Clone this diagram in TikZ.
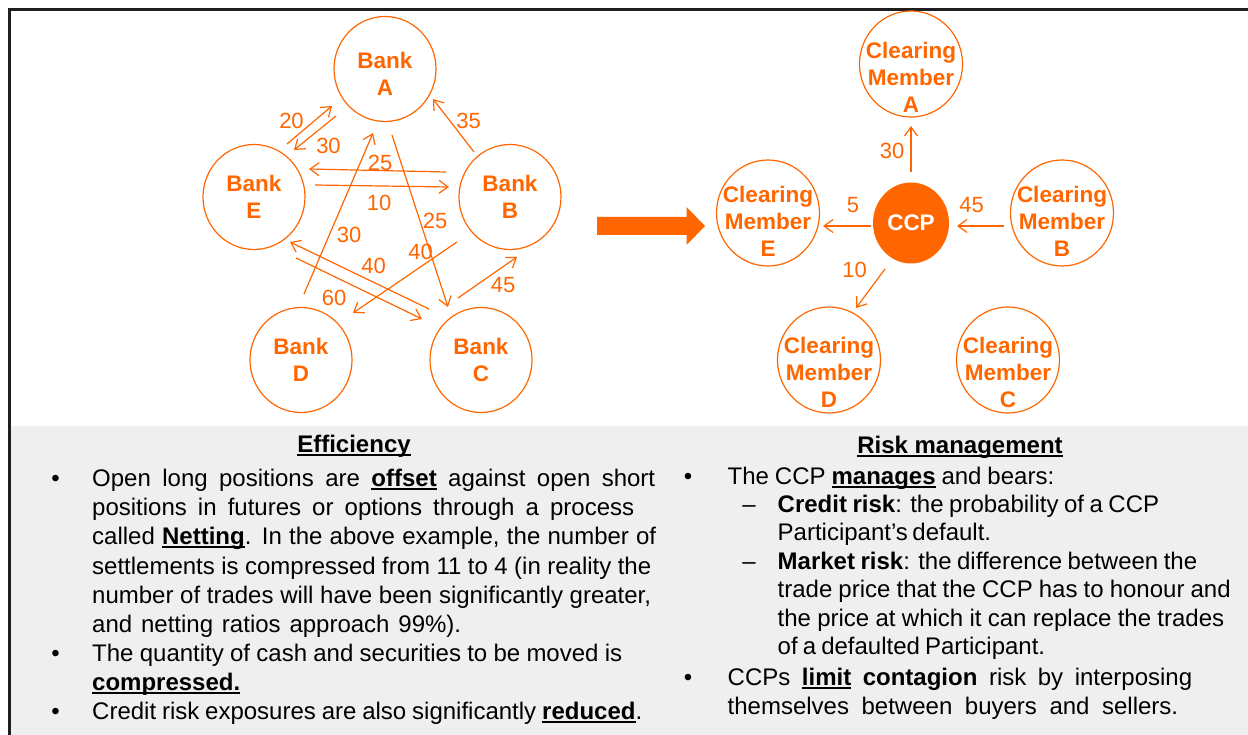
\documentclass[tikz,border=0pt]{standalone}
\usepackage{fontspec}
\setmainfont{Liberation Sans}
\usetikzlibrary{shapes.geometric,arrows.meta}
\definecolor{ora}{RGB}{255,102,0}
\definecolor{bggray}{RGB}{239,239,239}
\definecolor{framec}{RGB}{30,30,30}
\newcommand\ulx[1]{\leavevmode\setbox0\hbox{#1}\rlap{\rule[-4pt]{\wd0}{2pt}}\box0\relax}
\newcommand\lw[2]{\makebox[#1][s]{#2}}
\begin{document}
\begin{tikzpicture}[x=1pt,y=-1pt,
  bank/.style={ellipse,draw=ora,line width=1.2pt,minimum width=102pt,minimum height=105pt,inner sep=0pt},
  cmnode/.style={ellipse,draw=ora,line width=1.2pt,minimum width=103pt,minimum height=106pt,inner sep=0pt},
  ntext/.style={text=ora,font=\fontsize{22.5}{27}\selectfont\bfseries,align=center,inner sep=0pt},
  num/.style={text=ora,font=\fontsize{22}{26}\selectfont,inner sep=0pt},
  arr/.style={draw=ora,line width=1.2pt,-{Straight Barb[length=9pt,width=13pt]}},
  txl/.style={font=\fontsize{24}{29}\selectfont,inner sep=0pt,anchor=base west},
  hd/.style={font=\fontsize{24}{29}\selectfont\bfseries,inner sep=0pt,anchor=base},
  bul/.style={font=\fontsize{24}{29}\selectfont,inner sep=0pt,anchor=base}]
\useasboundingbox (0,0) rectangle (1248,735);
\fill[bggray] (11,426) rectangle (1248,735);
\draw[framec,line width=2.3pt] (9.5,735) -- (9.5,9.5) -- (1248,9.5);

% left network
\node[bank,label={[ntext,yshift=-4.5pt]center:Bank\\A}] (A) at (385,69) {};
\node[bank,label={[ntext]center:Bank\\E}] (E) at (254,197) {};
\node[bank,label={[ntext]center:Bank\\B}] (B) at (510,197) {};
\node[bank,label={[ntext]center:Bank\\D}] (D) at (301,360) {};
\node[bank,label={[ntext]center:Bank\\C}] (C) at (481,360) {};

\draw[arr] ([shift={(33,-53)}]E.center) -- ([shift={(-53,37)}]A.center);
\draw[arr] ([shift={(-49,47)}]A.center) -- ([shift={(40,-47)}]E.center);
\draw[arr] ([shift={(-36,-45)}]B.center) -- ([shift={(48,30)}]A.center);
\draw[arr] ([shift={(-64,-25)}]B.center) -- ([shift={(55,-28)}]E.center);
\draw[arr] ([shift={(61,-12)}]E.center) -- ([shift={(-61,-10)}]B.center);
\draw[arr] ([shift={(3,-66)}]D.center) -- ([shift={(-12,64)}]A.center);
\draw[arr] ([shift={(7,66)}]A.center) -- ([shift={(-33,-53)}]C.center);
\draw[arr] ([shift={(-53,45)}]B.center) -- ([shift={(52,-47)}]D.center);
\draw[arr] ([shift={(-52,-51)}]C.center) -- ([shift={(36,45)}]E.center);
\draw[arr] ([shift={(42,61)}]E.center) -- ([shift={(-59,-41)}]C.center);
\draw[arr] ([shift={(-23,-62)}]C.center) -- ([shift={(7,60)}]B.center);

\node[num] (n1) at (291.5,120.5) {20};
\node[num] (n2) at (328.5,146) {30};
\node[num] (n3) at (468.5,120.5) {35};
\node[num] (n4) at (380,163) {25};
\node[num] (n5) at (379,203) {10};
\node[num] (n6) at (349,234.5) {30};
\node[num] (n7) at (435,221) {25};
\node[num] (n8) at (420.5,252) {40};
\node[num] (n9) at (373.5,266) {40};
\node[num] (n10) at (334,298) {60};
\node[num] (n11) at (503,285) {45};

% big arrow
\fill[ora] (597,217) -- (686.5,217) -- (686.5,207) -- (705,226) -- (686.5,245) -- (686.5,235) -- (597,235) -- cycle;

% right network
\node[cmnode,label={[ntext,yshift=-13pt]center:Clearing\\Member\\A}] (CA) at (911,64) {};
\node[cmnode,label={[ntext,yshift=-8.5pt]center:Clearing\\Member\\E}] (CE) at (768,213) {};
\node[cmnode,label={[ntext,yshift=-8.5pt]center:Clearing\\Member\\B}] (CB) at (1062,213) {};
\node[cmnode,label={[ntext,yshift=-12pt]center:Clearing\\Member\\D}] (CD) at (829,360) {};
\node[cmnode,label={[ntext,yshift=-12pt]center:Clearing\\Member\\C}] (CC) at (1008,360) {};
\node[ellipse,fill=ora,minimum width=76pt,minimum height=81pt,inner sep=0pt,text=white,font=\fontsize{22.5}{27}\selectfont\bfseries] (CCP) at (911,223) {CCP};

\draw[arr] ([shift={(0,-51)}]CCP.center) -- ([shift={(0,62)}]CA.center);
\draw[arr] ([shift={(-40,3)}]CCP.center) -- ([shift={(55,13)}]CE.center);
\draw[arr] ([shift={(-58,13)}]CB.center) -- ([shift={(46,3)}]CCP.center);
\draw[arr] ([shift={(-26,46)}]CCP.center) -- ([shift={(27,-52)}]CD.center);

\node[num] (r1) at (892,151) {30};
\node[num] (r2) at (853,205) {5};
\node[num] (r3) at (971.5,205) {45};
\node[num] (r4) at (854.5,270) {10};

% left text
\node[hd] (effh) at (354,452) {\ulx{Efficiency}};
\node[bul] (lb1) at (55.5,486) {•};
\node[txl] (l1) at (92,486) {\lw{563pt}{Open long positions are \ulx{\textbf{offset}} against open short}};
\node[txl] (l2) at (92,515) {\lw{542pt}{positions in futures or options through a process}};
\node[txl] (l3) at (92,544) {\lw{564pt}{called \ulx{\textbf{Netting}}. In the above example, the number of}};
\node[txl] (l4) at (92,574) {\lw{559pt}{settlements is compressed from 11 to 4 (in reality the}};
\node[txl] (l5) at (92,603) {\lw{559pt}{number of trades will have been significantly greater,}};
\node[txl] (l6) at (92,632) {\lw{369pt}{and netting ratios approach 99\%).}};
\node[bul] (lb2) at (55.5,661) {•};
\node[txl] (l7) at (92,661) {\lw{530pt}{The quantity of cash and securities to be moved is}};
\node[txl] (l8) at (92,690) {\ulx{\textbf{compressed.}}};
\node[bul] (lb3) at (55.5,719) {•};
\node[txl] (l9) at (92,719) {\lw{550pt}{Credit risk exposures are also significantly \ulx{\textbf{reduced}}.}};

% right text
\node[hd] (riskh) at (960,453) {\ulx{Risk management}};
\node[bul] (rb1) at (688,484) {•};
\node[txl] (q1) at (727.5,484) {\lw{326.5pt}{The CCP \ulx{\textbf{manages}} and bears:}};
\node[bul] (rd1) at (749,512) {–};
\node[txl] (q2) at (777.5,512) {\lw{381.5pt}{\textbf{Credit risk}: the probability of a CCP}};
\node[txl] (q3) at (777.5,540) {\lw{212.5pt}{Participant’s default.}};
\node[bul] (rd2) at (749,569) {–};
\node[txl] (q4) at (777.5,569) {\lw{419.5pt}{\textbf{Market risk}: the difference between the}};
\node[txl] (q5) at (777.5,597) {\lw{453pt}{trade price that the CCP has to honour and}};
\node[txl] (q6) at (777.5,626) {\lw{446.5pt}{the price at which it can replace the trades}};
\node[txl] (q7) at (777.5,654) {\lw{267.5pt}{of a defaulted Participant.}};
\node[bul] (rb2) at (688,685) {•};
\node[txl] (q8) at (727.5,685) {\lw{464.5pt}{CCPs \ulx{\textbf{limit}} \textbf{contagion} risk by interposing}};
\node[txl] (q9) at (727.5,714) {\lw{450.5pt}{themselves between buyers and sellers.}};
\end{tikzpicture}
\end{document}
